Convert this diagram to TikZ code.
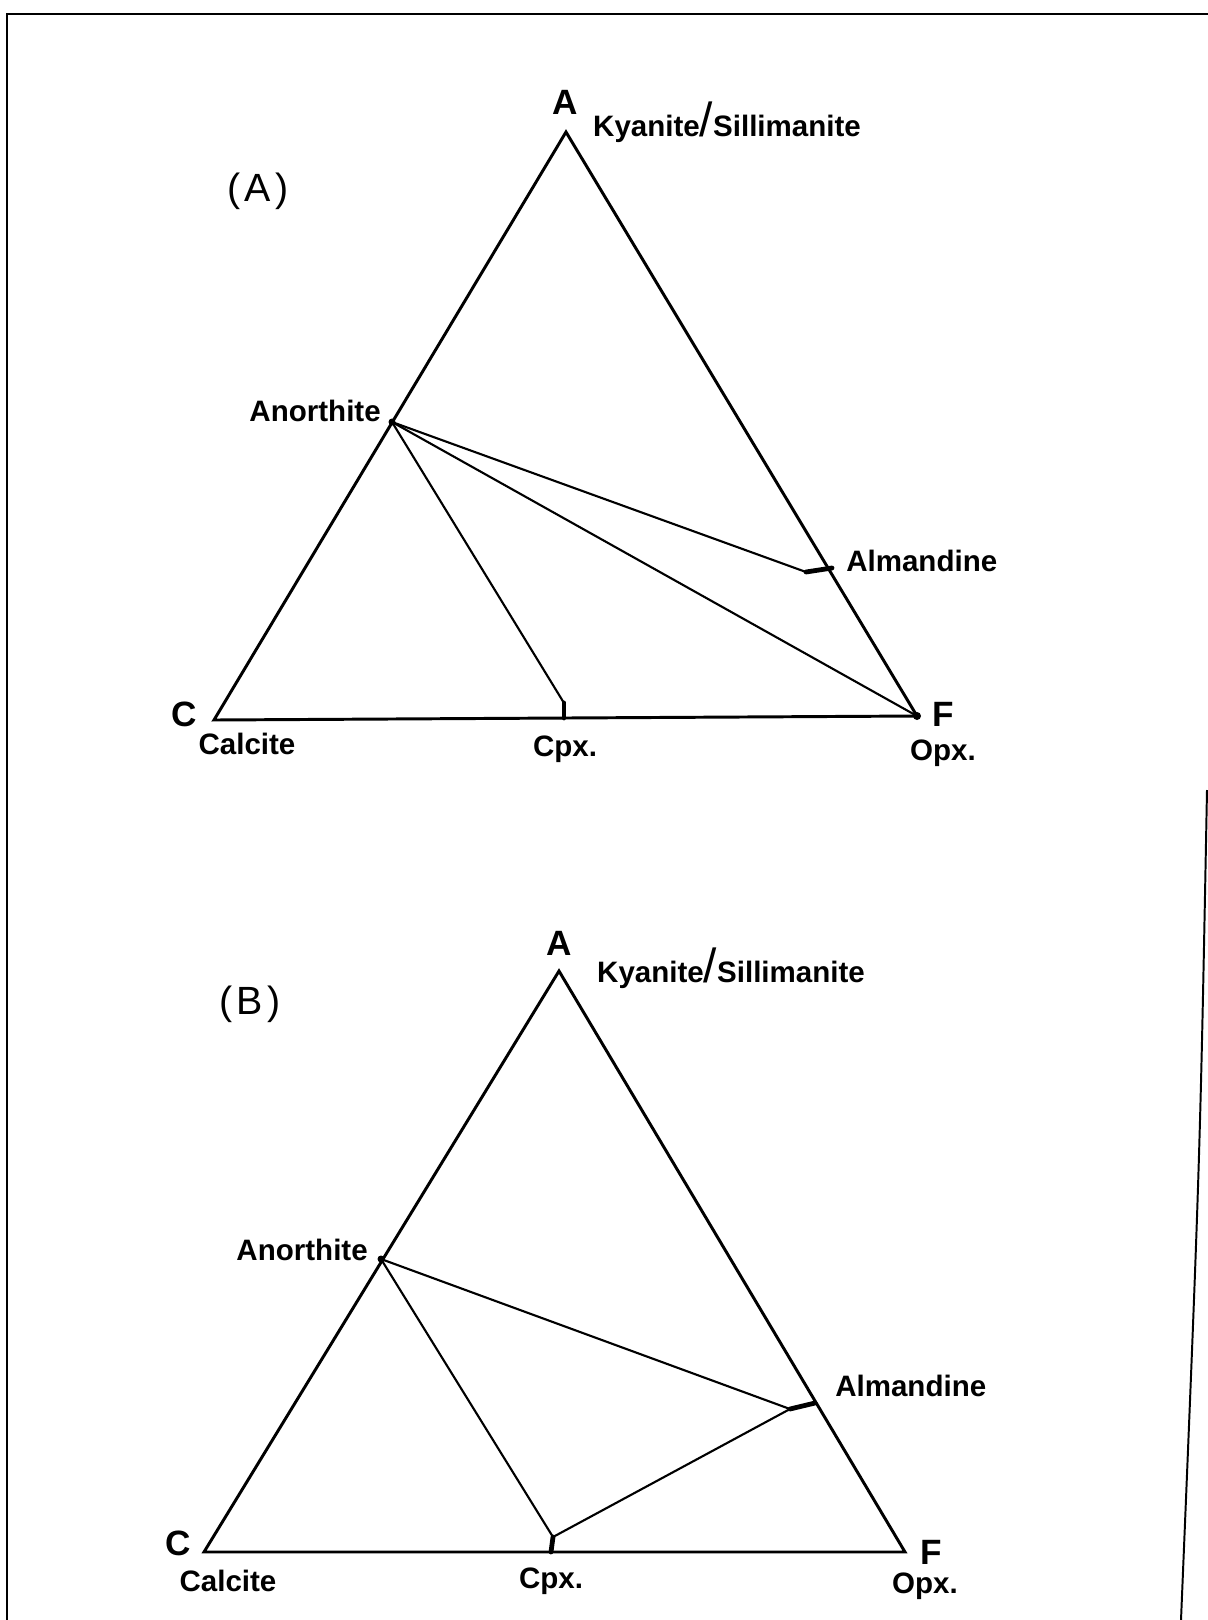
\documentclass[tikz,border=0pt]{standalone}
\usepackage{fontspec}
\setmainfont{Liberation Sans}
\usetikzlibrary{positioning, calc}

\tikzset{
  mineral/.style={font=\bfseries\fontsize{21}{21}\selectfont, inner sep=0pt},
  corner/.style={font=\bfseries\fontsize{25}{25}\selectfont, inner sep=0pt},
  panel/.style={font=\fontsize{28}{28}\selectfont\addfontfeature{LetterSpace=12}, inner sep=0pt},
  side/.style={line width=2.1pt, line join=miter},
  tie/.style={line width=1.5pt},
  tick/.style={line width=3.4pt, line cap=round},
}
\newcommand{\kyslash}{Kyanite{\fontsize{34}{34}\selectfont\mdseries/}Sillimanite}

\begin{document}
\begin{tikzpicture}[x=0.025cm, y=-0.025cm]
    \useasboundingbox[fill=white] (0,0) rectangle (1208,1620);

    % frame of the scanned page
    \draw[line width=1.4pt] (1208,14) -- (7,14) -- (7,1620);
    \draw[line width=1.4pt] (1207,790) .. controls (1200,1160) .. (1181,1620);

    % ---------- (A) ----------
    \coordinate (aA) at (566,132);
    \coordinate (aC) at (214,720);
    \coordinate (aF) at (917,716);
    \coordinate (aAn) at (392,422);
    \coordinate (aAl) at (832,568);
    \coordinate (aAlt) at (806,572);
    \coordinate (aCpx) at (564,718);
    \coordinate (aCpxt) at (564,703);

    \draw[side] (aC) -- (aA) -- (aF) -- cycle;
    \draw[tie] (aAn) -- (aAlt);
    \draw[tie] (aAn) -- (aF);
    \draw[tie] (aAn) -- (aCpxt);
    \draw[tick] (aAlt) -- (aAl);
    \draw[tick] (aCpxt) -- (aCpx);
    \fill (aAn) circle (3.5);
    \fill (aF) circle (4);

    \node[panel] (aTitle) at (258,191) {(A)};
    \node[corner] (aAlab) at (565,102) {A};
    \node[mineral] (aKy) at (727,122) {\kyslash};
    \node[mineral, anchor=east] (aAnlab) at (381,411) {Anorthite};
    \node[mineral, anchor=west] (aAllab) at (846,561) {Almandine};
    \node[corner] (aClab) at (184,714) {C};
    \node[mineral] (aCal) at (247,744) {Calcite};
    \node[mineral] (aCpxlab) at (565,749) {Cpx.};
    \node[corner] (aFlab) at (943,714) {F};
    \node[mineral] (aOpx) at (943,753) {Opx.};

    % ---------- (B) ----------
    \coordinate (bA) at (559,971);
    \coordinate (bC) at (204,1552);
    \coordinate (bF) at (905,1552);
    \coordinate (bAn) at (381,1259);
    \coordinate (bAl) at (815,1403);
    \coordinate (bAlt) at (790,1409);
    \coordinate (bCpx) at (551,1552);
    \coordinate (bCpxt) at (553,1537);

    \draw[side] (bC) -- (bA) -- (bF) -- cycle;
    \draw[tie] (bAn) -- (bAlt);
    \draw[tie] (bAn) -- (bCpxt);
    \draw[tie] (bCpxt) -- (bAlt);
    \draw[tick] (bAlt) -- (bAl);
    \draw[tick] (bCpxt) -- (bCpx);
    \fill (bAn) circle (3.5);

    \node[panel] (bTitle) at (250,1004) {(B)};
    \node[corner] (bAlab) at (559,943) {A};
    \node[mineral] (bKy) at (731,968) {\kyslash};
    \node[mineral, anchor=east] (bAnlab) at (368,1250) {Anorthite};
    \node[mineral, anchor=west] (bAllab) at (835,1386) {Almandine};
    \node[corner] (bClab) at (178,1543) {C};
    \node[mineral] (bCal) at (228,1581) {Calcite};
    \node[mineral] (bCpxlab) at (551,1581) {Cpx.};
    \node[corner] (bFlab) at (931,1552) {F};
    \node[mineral] (bOpx) at (925,1586) {Opx.};
\end{tikzpicture}
\end{document}
